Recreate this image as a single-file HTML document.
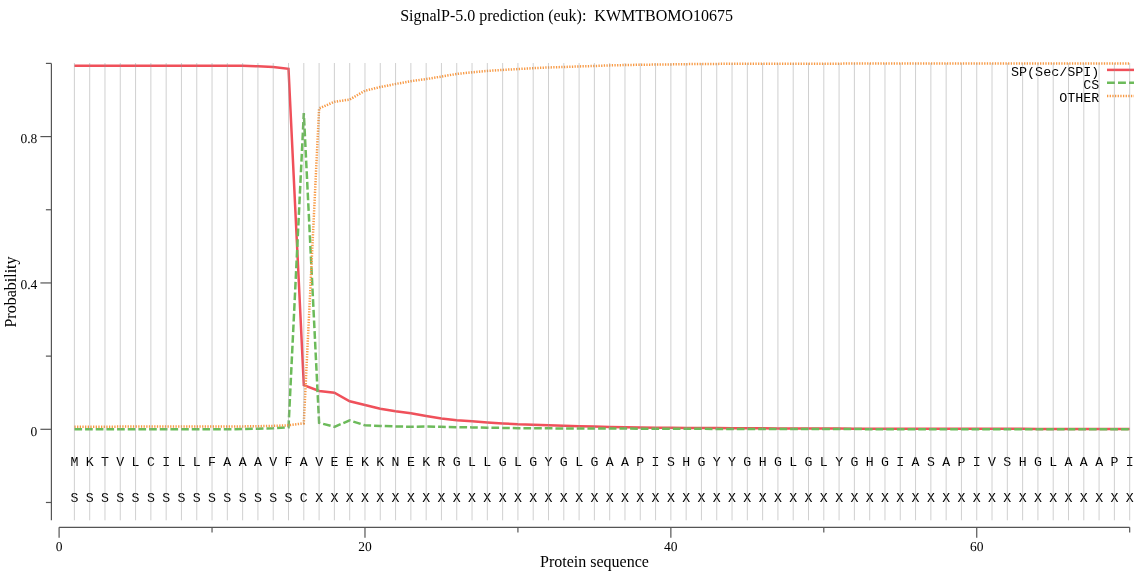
<!DOCTYPE html>
<html><head><meta charset="utf-8"><style>
html,body{margin:0;padding:0;background:#fff;width:1139px;height:572px;overflow:hidden}
svg{display:block;will-change:transform}
.serif{font-family:"Liberation Serif",serif}
.mono{font-family:"Liberation Mono",monospace}
</style></head><body>
<svg width="1139" height="572" viewBox="0 0 1139 572">
<rect width="1139" height="572" fill="#fff"/>

<text class="serif" x="566.6" y="20.7" font-size="16" text-anchor="middle" fill="#000" xml:space="preserve">SignalP-5.0 prediction (euk):  KWMTBOMO10675</text>
<path d="M74.39,65.67 L89.69,65.67 L104.98,65.67 L120.28,65.67 L135.57,65.67 L150.86,65.67 L166.16,65.67 L181.45,65.67 L196.75,65.67 L212.04,65.67 L227.33,65.67 L242.63,65.67 L257.92,66.29 L273.22,66.91 L288.51,68.78 L303.80,385.06 L319.10,390.92 L334.39,392.71 L349.69,401.31 L364.98,405.00 L380.27,408.70 L395.57,411.19 L410.86,413.31 L426.16,416.05 L441.45,418.51 L456.74,420.26 L472.04,421.32 L487.33,422.38 L502.63,423.45 L517.92,424.29 L533.21,424.73 L548.51,425.17 L563.80,425.71 L579.10,426.23 L594.39,426.56 L609.68,426.96 L624.98,427.29 L640.27,427.51 L655.57,427.64 L670.86,427.76 L686.15,427.89 L701.45,428.02 L716.74,428.10 L732.04,428.18 L747.33,428.26 L762.62,428.34 L777.92,428.42 L793.21,428.50 L808.51,428.53 L823.80,428.57 L839.09,428.60 L854.39,428.64 L869.68,428.68 L884.98,428.71 L900.27,428.75 L915.56,428.77 L930.86,428.78 L946.15,428.80 L961.45,428.81 L976.74,428.83 L992.03,428.85 L1007.33,428.86 L1022.62,428.87 L1037.92,428.88 L1053.21,428.89 L1068.50,428.90 L1083.80,428.91 L1099.09,428.92 L1114.39,428.92 L1129.68,428.93" fill="none" stroke="#f0505a" stroke-width="2.5" stroke-linejoin="miter"/>
<path d="M74.39,429.30 L89.69,429.30 L104.98,429.30 L120.28,429.30 L135.57,429.30 L150.86,429.30 L166.16,429.30 L181.45,429.30 L196.75,429.30 L212.04,429.30 L227.33,429.30 L242.63,428.93 L257.92,428.64 L273.22,428.28 L288.51,427.29 L303.80,113.16 L319.10,422.86 L334.39,426.81 L349.69,420.41 L364.98,425.31 L380.27,425.90 L395.57,426.48 L410.86,426.74 L426.16,426.59 L441.45,426.87 L456.74,427.14 L472.04,427.40 L487.33,427.65 L502.63,427.93 L517.92,428.20 L533.21,428.28 L548.51,428.35 L563.80,428.42 L579.10,428.50 L594.39,428.53 L609.68,428.57 L624.98,428.60 L640.27,428.64 L655.57,428.69 L670.86,428.74 L686.15,428.79 L701.45,428.84 L716.74,428.89 L732.04,428.93 L747.33,428.96 L762.62,429.00 L777.92,429.03 L793.21,429.06 L808.51,429.09 L823.80,429.12 L839.09,429.12 L854.39,429.12 L869.68,429.13 L884.98,429.13 L900.27,429.14 L915.56,429.14 L930.86,429.14 L946.15,429.15 L961.45,429.15 L976.74,429.15 L992.03,429.16 L1007.33,429.16 L1022.62,429.16 L1037.92,429.17 L1053.21,429.17 L1068.50,429.18 L1083.80,429.18 L1099.09,429.18 L1114.39,429.19 L1129.68,429.19" fill="none" stroke="#6cbb5a" stroke-width="2.5" stroke-dasharray="7.7 2.97" stroke-dashoffset="0.0"/>
<path d="M74.39,426.67 L89.69,426.65 L104.98,426.64 L120.28,426.62 L135.57,426.61 L150.86,426.59 L166.16,426.58 L181.45,426.56 L196.75,426.55 L212.04,426.53 L227.33,426.52 L242.63,426.41 L257.92,426.19 L273.22,425.90 L288.51,425.28 L303.80,423.30 L319.10,108.41 L334.39,101.82 L349.69,99.55 L364.98,90.73 L380.27,87.04 L395.57,83.96 L410.86,81.15 L426.16,79.06 L441.45,76.57 L456.74,73.90 L472.04,72.33 L487.33,70.90 L502.63,69.91 L517.92,69.07 L533.21,68.19 L548.51,67.46 L563.80,66.99 L579.10,66.40 L594.39,66.00 L609.68,65.38 L624.98,65.06 L640.27,64.75 L655.57,64.57 L670.86,64.39 L686.15,64.15 L701.45,63.91 L716.74,63.88 L732.04,63.84 L747.33,63.80 L762.62,63.77 L777.92,63.73 L793.21,63.69 L808.51,63.67 L823.80,63.65 L839.09,63.63 L854.39,63.61 L869.68,63.59 L884.98,63.57 L900.27,63.55 L915.56,63.54 L930.86,63.54 L946.15,63.53 L961.45,63.53 L976.74,63.52 L992.03,63.52 L1007.33,63.51 L1022.62,63.51 L1037.92,63.50 L1053.21,63.50 L1068.50,63.49 L1083.80,63.49 L1099.09,63.48 L1114.39,63.48 L1129.68,63.47" fill="none" stroke="#f89a45" stroke-width="2.5" stroke-dasharray="1.3 1.36"/>
<text class="mono" x="1099.4" y="76.1" font-size="13.4" text-anchor="end" fill="#000">SP(Sec/SPI)</text>
<line x1="1107" y1="69.9" x2="1134" y2="69.9" stroke="#f0505a" stroke-width="2.5"/>
<text class="mono" x="1099.4" y="89.0" font-size="13.4" text-anchor="end" fill="#000">CS</text>
<line x1="1107" y1="82.8" x2="1134" y2="82.8" stroke="#6cbb5a" stroke-width="2.5" stroke-dasharray="7.9 3.1"/>
<text class="mono" x="1099.4" y="102.3" font-size="13.4" text-anchor="end" fill="#000">OTHER</text>
<line x1="1107" y1="96.1" x2="1134" y2="96.1" stroke="#f89a45" stroke-width="2.5" stroke-dasharray="1.3 1.36"/>
<text class="mono" x="74.39" y="465.6" font-size="13.2" text-anchor="middle" fill="#000">M</text>
<text class="mono" x="89.69" y="465.6" font-size="13.2" text-anchor="middle" fill="#000">K</text>
<text class="mono" x="104.98" y="465.6" font-size="13.2" text-anchor="middle" fill="#000">T</text>
<text class="mono" x="120.28" y="465.6" font-size="13.2" text-anchor="middle" fill="#000">V</text>
<text class="mono" x="135.57" y="465.6" font-size="13.2" text-anchor="middle" fill="#000">L</text>
<text class="mono" x="150.86" y="465.6" font-size="13.2" text-anchor="middle" fill="#000">C</text>
<text class="mono" x="166.16" y="465.6" font-size="13.2" text-anchor="middle" fill="#000">I</text>
<text class="mono" x="181.45" y="465.6" font-size="13.2" text-anchor="middle" fill="#000">L</text>
<text class="mono" x="196.75" y="465.6" font-size="13.2" text-anchor="middle" fill="#000">L</text>
<text class="mono" x="212.04" y="465.6" font-size="13.2" text-anchor="middle" fill="#000">F</text>
<text class="mono" x="227.33" y="465.6" font-size="13.2" text-anchor="middle" fill="#000">A</text>
<text class="mono" x="242.63" y="465.6" font-size="13.2" text-anchor="middle" fill="#000">A</text>
<text class="mono" x="257.92" y="465.6" font-size="13.2" text-anchor="middle" fill="#000">A</text>
<text class="mono" x="273.22" y="465.6" font-size="13.2" text-anchor="middle" fill="#000">V</text>
<text class="mono" x="288.51" y="465.6" font-size="13.2" text-anchor="middle" fill="#000">F</text>
<text class="mono" x="303.80" y="465.6" font-size="13.2" text-anchor="middle" fill="#000">A</text>
<text class="mono" x="319.10" y="465.6" font-size="13.2" text-anchor="middle" fill="#000">V</text>
<text class="mono" x="334.39" y="465.6" font-size="13.2" text-anchor="middle" fill="#000">E</text>
<text class="mono" x="349.69" y="465.6" font-size="13.2" text-anchor="middle" fill="#000">E</text>
<text class="mono" x="364.98" y="465.6" font-size="13.2" text-anchor="middle" fill="#000">K</text>
<text class="mono" x="380.27" y="465.6" font-size="13.2" text-anchor="middle" fill="#000">K</text>
<text class="mono" x="395.57" y="465.6" font-size="13.2" text-anchor="middle" fill="#000">N</text>
<text class="mono" x="410.86" y="465.6" font-size="13.2" text-anchor="middle" fill="#000">E</text>
<text class="mono" x="426.16" y="465.6" font-size="13.2" text-anchor="middle" fill="#000">K</text>
<text class="mono" x="441.45" y="465.6" font-size="13.2" text-anchor="middle" fill="#000">R</text>
<text class="mono" x="456.74" y="465.6" font-size="13.2" text-anchor="middle" fill="#000">G</text>
<text class="mono" x="472.04" y="465.6" font-size="13.2" text-anchor="middle" fill="#000">L</text>
<text class="mono" x="487.33" y="465.6" font-size="13.2" text-anchor="middle" fill="#000">L</text>
<text class="mono" x="502.63" y="465.6" font-size="13.2" text-anchor="middle" fill="#000">G</text>
<text class="mono" x="517.92" y="465.6" font-size="13.2" text-anchor="middle" fill="#000">L</text>
<text class="mono" x="533.21" y="465.6" font-size="13.2" text-anchor="middle" fill="#000">G</text>
<text class="mono" x="548.51" y="465.6" font-size="13.2" text-anchor="middle" fill="#000">Y</text>
<text class="mono" x="563.80" y="465.6" font-size="13.2" text-anchor="middle" fill="#000">G</text>
<text class="mono" x="579.10" y="465.6" font-size="13.2" text-anchor="middle" fill="#000">L</text>
<text class="mono" x="594.39" y="465.6" font-size="13.2" text-anchor="middle" fill="#000">G</text>
<text class="mono" x="609.68" y="465.6" font-size="13.2" text-anchor="middle" fill="#000">A</text>
<text class="mono" x="624.98" y="465.6" font-size="13.2" text-anchor="middle" fill="#000">A</text>
<text class="mono" x="640.27" y="465.6" font-size="13.2" text-anchor="middle" fill="#000">P</text>
<text class="mono" x="655.57" y="465.6" font-size="13.2" text-anchor="middle" fill="#000">I</text>
<text class="mono" x="670.86" y="465.6" font-size="13.2" text-anchor="middle" fill="#000">S</text>
<text class="mono" x="686.15" y="465.6" font-size="13.2" text-anchor="middle" fill="#000">H</text>
<text class="mono" x="701.45" y="465.6" font-size="13.2" text-anchor="middle" fill="#000">G</text>
<text class="mono" x="716.74" y="465.6" font-size="13.2" text-anchor="middle" fill="#000">Y</text>
<text class="mono" x="732.04" y="465.6" font-size="13.2" text-anchor="middle" fill="#000">Y</text>
<text class="mono" x="747.33" y="465.6" font-size="13.2" text-anchor="middle" fill="#000">G</text>
<text class="mono" x="762.62" y="465.6" font-size="13.2" text-anchor="middle" fill="#000">H</text>
<text class="mono" x="777.92" y="465.6" font-size="13.2" text-anchor="middle" fill="#000">G</text>
<text class="mono" x="793.21" y="465.6" font-size="13.2" text-anchor="middle" fill="#000">L</text>
<text class="mono" x="808.51" y="465.6" font-size="13.2" text-anchor="middle" fill="#000">G</text>
<text class="mono" x="823.80" y="465.6" font-size="13.2" text-anchor="middle" fill="#000">L</text>
<text class="mono" x="839.09" y="465.6" font-size="13.2" text-anchor="middle" fill="#000">Y</text>
<text class="mono" x="854.39" y="465.6" font-size="13.2" text-anchor="middle" fill="#000">G</text>
<text class="mono" x="869.68" y="465.6" font-size="13.2" text-anchor="middle" fill="#000">H</text>
<text class="mono" x="884.98" y="465.6" font-size="13.2" text-anchor="middle" fill="#000">G</text>
<text class="mono" x="900.27" y="465.6" font-size="13.2" text-anchor="middle" fill="#000">I</text>
<text class="mono" x="915.56" y="465.6" font-size="13.2" text-anchor="middle" fill="#000">A</text>
<text class="mono" x="930.86" y="465.6" font-size="13.2" text-anchor="middle" fill="#000">S</text>
<text class="mono" x="946.15" y="465.6" font-size="13.2" text-anchor="middle" fill="#000">A</text>
<text class="mono" x="961.45" y="465.6" font-size="13.2" text-anchor="middle" fill="#000">P</text>
<text class="mono" x="976.74" y="465.6" font-size="13.2" text-anchor="middle" fill="#000">I</text>
<text class="mono" x="992.03" y="465.6" font-size="13.2" text-anchor="middle" fill="#000">V</text>
<text class="mono" x="1007.33" y="465.6" font-size="13.2" text-anchor="middle" fill="#000">S</text>
<text class="mono" x="1022.62" y="465.6" font-size="13.2" text-anchor="middle" fill="#000">H</text>
<text class="mono" x="1037.92" y="465.6" font-size="13.2" text-anchor="middle" fill="#000">G</text>
<text class="mono" x="1053.21" y="465.6" font-size="13.2" text-anchor="middle" fill="#000">L</text>
<text class="mono" x="1068.50" y="465.6" font-size="13.2" text-anchor="middle" fill="#000">A</text>
<text class="mono" x="1083.80" y="465.6" font-size="13.2" text-anchor="middle" fill="#000">A</text>
<text class="mono" x="1099.09" y="465.6" font-size="13.2" text-anchor="middle" fill="#000">A</text>
<text class="mono" x="1114.39" y="465.6" font-size="13.2" text-anchor="middle" fill="#000">P</text>
<text class="mono" x="1129.68" y="465.6" font-size="13.2" text-anchor="middle" fill="#000">I</text>
<text class="mono" x="74.39" y="501.8" font-size="13.2" text-anchor="middle" fill="#000">S</text>
<text class="mono" x="89.69" y="501.8" font-size="13.2" text-anchor="middle" fill="#000">S</text>
<text class="mono" x="104.98" y="501.8" font-size="13.2" text-anchor="middle" fill="#000">S</text>
<text class="mono" x="120.28" y="501.8" font-size="13.2" text-anchor="middle" fill="#000">S</text>
<text class="mono" x="135.57" y="501.8" font-size="13.2" text-anchor="middle" fill="#000">S</text>
<text class="mono" x="150.86" y="501.8" font-size="13.2" text-anchor="middle" fill="#000">S</text>
<text class="mono" x="166.16" y="501.8" font-size="13.2" text-anchor="middle" fill="#000">S</text>
<text class="mono" x="181.45" y="501.8" font-size="13.2" text-anchor="middle" fill="#000">S</text>
<text class="mono" x="196.75" y="501.8" font-size="13.2" text-anchor="middle" fill="#000">S</text>
<text class="mono" x="212.04" y="501.8" font-size="13.2" text-anchor="middle" fill="#000">S</text>
<text class="mono" x="227.33" y="501.8" font-size="13.2" text-anchor="middle" fill="#000">S</text>
<text class="mono" x="242.63" y="501.8" font-size="13.2" text-anchor="middle" fill="#000">S</text>
<text class="mono" x="257.92" y="501.8" font-size="13.2" text-anchor="middle" fill="#000">S</text>
<text class="mono" x="273.22" y="501.8" font-size="13.2" text-anchor="middle" fill="#000">S</text>
<text class="mono" x="288.51" y="501.8" font-size="13.2" text-anchor="middle" fill="#000">S</text>
<text class="mono" x="303.80" y="501.8" font-size="13.2" text-anchor="middle" fill="#000">C</text>
<text class="mono" x="319.10" y="501.8" font-size="13.2" text-anchor="middle" fill="#000">X</text>
<text class="mono" x="334.39" y="501.8" font-size="13.2" text-anchor="middle" fill="#000">X</text>
<text class="mono" x="349.69" y="501.8" font-size="13.2" text-anchor="middle" fill="#000">X</text>
<text class="mono" x="364.98" y="501.8" font-size="13.2" text-anchor="middle" fill="#000">X</text>
<text class="mono" x="380.27" y="501.8" font-size="13.2" text-anchor="middle" fill="#000">X</text>
<text class="mono" x="395.57" y="501.8" font-size="13.2" text-anchor="middle" fill="#000">X</text>
<text class="mono" x="410.86" y="501.8" font-size="13.2" text-anchor="middle" fill="#000">X</text>
<text class="mono" x="426.16" y="501.8" font-size="13.2" text-anchor="middle" fill="#000">X</text>
<text class="mono" x="441.45" y="501.8" font-size="13.2" text-anchor="middle" fill="#000">X</text>
<text class="mono" x="456.74" y="501.8" font-size="13.2" text-anchor="middle" fill="#000">X</text>
<text class="mono" x="472.04" y="501.8" font-size="13.2" text-anchor="middle" fill="#000">X</text>
<text class="mono" x="487.33" y="501.8" font-size="13.2" text-anchor="middle" fill="#000">X</text>
<text class="mono" x="502.63" y="501.8" font-size="13.2" text-anchor="middle" fill="#000">X</text>
<text class="mono" x="517.92" y="501.8" font-size="13.2" text-anchor="middle" fill="#000">X</text>
<text class="mono" x="533.21" y="501.8" font-size="13.2" text-anchor="middle" fill="#000">X</text>
<text class="mono" x="548.51" y="501.8" font-size="13.2" text-anchor="middle" fill="#000">X</text>
<text class="mono" x="563.80" y="501.8" font-size="13.2" text-anchor="middle" fill="#000">X</text>
<text class="mono" x="579.10" y="501.8" font-size="13.2" text-anchor="middle" fill="#000">X</text>
<text class="mono" x="594.39" y="501.8" font-size="13.2" text-anchor="middle" fill="#000">X</text>
<text class="mono" x="609.68" y="501.8" font-size="13.2" text-anchor="middle" fill="#000">X</text>
<text class="mono" x="624.98" y="501.8" font-size="13.2" text-anchor="middle" fill="#000">X</text>
<text class="mono" x="640.27" y="501.8" font-size="13.2" text-anchor="middle" fill="#000">X</text>
<text class="mono" x="655.57" y="501.8" font-size="13.2" text-anchor="middle" fill="#000">X</text>
<text class="mono" x="670.86" y="501.8" font-size="13.2" text-anchor="middle" fill="#000">X</text>
<text class="mono" x="686.15" y="501.8" font-size="13.2" text-anchor="middle" fill="#000">X</text>
<text class="mono" x="701.45" y="501.8" font-size="13.2" text-anchor="middle" fill="#000">X</text>
<text class="mono" x="716.74" y="501.8" font-size="13.2" text-anchor="middle" fill="#000">X</text>
<text class="mono" x="732.04" y="501.8" font-size="13.2" text-anchor="middle" fill="#000">X</text>
<text class="mono" x="747.33" y="501.8" font-size="13.2" text-anchor="middle" fill="#000">X</text>
<text class="mono" x="762.62" y="501.8" font-size="13.2" text-anchor="middle" fill="#000">X</text>
<text class="mono" x="777.92" y="501.8" font-size="13.2" text-anchor="middle" fill="#000">X</text>
<text class="mono" x="793.21" y="501.8" font-size="13.2" text-anchor="middle" fill="#000">X</text>
<text class="mono" x="808.51" y="501.8" font-size="13.2" text-anchor="middle" fill="#000">X</text>
<text class="mono" x="823.80" y="501.8" font-size="13.2" text-anchor="middle" fill="#000">X</text>
<text class="mono" x="839.09" y="501.8" font-size="13.2" text-anchor="middle" fill="#000">X</text>
<text class="mono" x="854.39" y="501.8" font-size="13.2" text-anchor="middle" fill="#000">X</text>
<text class="mono" x="869.68" y="501.8" font-size="13.2" text-anchor="middle" fill="#000">X</text>
<text class="mono" x="884.98" y="501.8" font-size="13.2" text-anchor="middle" fill="#000">X</text>
<text class="mono" x="900.27" y="501.8" font-size="13.2" text-anchor="middle" fill="#000">X</text>
<text class="mono" x="915.56" y="501.8" font-size="13.2" text-anchor="middle" fill="#000">X</text>
<text class="mono" x="930.86" y="501.8" font-size="13.2" text-anchor="middle" fill="#000">X</text>
<text class="mono" x="946.15" y="501.8" font-size="13.2" text-anchor="middle" fill="#000">X</text>
<text class="mono" x="961.45" y="501.8" font-size="13.2" text-anchor="middle" fill="#000">X</text>
<text class="mono" x="976.74" y="501.8" font-size="13.2" text-anchor="middle" fill="#000">X</text>
<text class="mono" x="992.03" y="501.8" font-size="13.2" text-anchor="middle" fill="#000">X</text>
<text class="mono" x="1007.33" y="501.8" font-size="13.2" text-anchor="middle" fill="#000">X</text>
<text class="mono" x="1022.62" y="501.8" font-size="13.2" text-anchor="middle" fill="#000">X</text>
<text class="mono" x="1037.92" y="501.8" font-size="13.2" text-anchor="middle" fill="#000">X</text>
<text class="mono" x="1053.21" y="501.8" font-size="13.2" text-anchor="middle" fill="#000">X</text>
<text class="mono" x="1068.50" y="501.8" font-size="13.2" text-anchor="middle" fill="#000">X</text>
<text class="mono" x="1083.80" y="501.8" font-size="13.2" text-anchor="middle" fill="#000">X</text>
<text class="mono" x="1099.09" y="501.8" font-size="13.2" text-anchor="middle" fill="#000">X</text>
<text class="mono" x="1114.39" y="501.8" font-size="13.2" text-anchor="middle" fill="#000">X</text>
<text class="mono" x="1129.68" y="501.8" font-size="13.2" text-anchor="middle" fill="#000">X</text>
<line x1="74.39" y1="63" x2="74.39" y2="520.3" stroke="rgba(150,150,150,0.45)" stroke-width="1"/>
<line x1="89.69" y1="63" x2="89.69" y2="520.3" stroke="rgba(150,150,150,0.45)" stroke-width="1"/>
<line x1="104.98" y1="63" x2="104.98" y2="520.3" stroke="rgba(150,150,150,0.45)" stroke-width="1"/>
<line x1="120.28" y1="63" x2="120.28" y2="520.3" stroke="rgba(150,150,150,0.45)" stroke-width="1"/>
<line x1="135.57" y1="63" x2="135.57" y2="520.3" stroke="rgba(150,150,150,0.45)" stroke-width="1"/>
<line x1="150.86" y1="63" x2="150.86" y2="520.3" stroke="rgba(150,150,150,0.45)" stroke-width="1"/>
<line x1="166.16" y1="63" x2="166.16" y2="520.3" stroke="rgba(150,150,150,0.45)" stroke-width="1"/>
<line x1="181.45" y1="63" x2="181.45" y2="520.3" stroke="rgba(150,150,150,0.45)" stroke-width="1"/>
<line x1="196.75" y1="63" x2="196.75" y2="520.3" stroke="rgba(150,150,150,0.45)" stroke-width="1"/>
<line x1="212.04" y1="63" x2="212.04" y2="520.3" stroke="rgba(150,150,150,0.45)" stroke-width="1"/>
<line x1="227.33" y1="63" x2="227.33" y2="520.3" stroke="rgba(150,150,150,0.45)" stroke-width="1"/>
<line x1="242.63" y1="63" x2="242.63" y2="520.3" stroke="rgba(150,150,150,0.45)" stroke-width="1"/>
<line x1="257.92" y1="63" x2="257.92" y2="520.3" stroke="rgba(150,150,150,0.45)" stroke-width="1"/>
<line x1="273.22" y1="63" x2="273.22" y2="520.3" stroke="rgba(150,150,150,0.45)" stroke-width="1"/>
<line x1="288.51" y1="63" x2="288.51" y2="520.3" stroke="rgba(150,150,150,0.45)" stroke-width="1"/>
<line x1="303.80" y1="63" x2="303.80" y2="520.3" stroke="rgba(150,150,150,0.45)" stroke-width="1"/>
<line x1="319.10" y1="63" x2="319.10" y2="520.3" stroke="rgba(150,150,150,0.45)" stroke-width="1"/>
<line x1="334.39" y1="63" x2="334.39" y2="520.3" stroke="rgba(150,150,150,0.45)" stroke-width="1"/>
<line x1="349.69" y1="63" x2="349.69" y2="520.3" stroke="rgba(150,150,150,0.45)" stroke-width="1"/>
<line x1="364.98" y1="63" x2="364.98" y2="520.3" stroke="rgba(150,150,150,0.45)" stroke-width="1"/>
<line x1="380.27" y1="63" x2="380.27" y2="520.3" stroke="rgba(150,150,150,0.45)" stroke-width="1"/>
<line x1="395.57" y1="63" x2="395.57" y2="520.3" stroke="rgba(150,150,150,0.45)" stroke-width="1"/>
<line x1="410.86" y1="63" x2="410.86" y2="520.3" stroke="rgba(150,150,150,0.45)" stroke-width="1"/>
<line x1="426.16" y1="63" x2="426.16" y2="520.3" stroke="rgba(150,150,150,0.45)" stroke-width="1"/>
<line x1="441.45" y1="63" x2="441.45" y2="520.3" stroke="rgba(150,150,150,0.45)" stroke-width="1"/>
<line x1="456.74" y1="63" x2="456.74" y2="520.3" stroke="rgba(150,150,150,0.45)" stroke-width="1"/>
<line x1="472.04" y1="63" x2="472.04" y2="520.3" stroke="rgba(150,150,150,0.45)" stroke-width="1"/>
<line x1="487.33" y1="63" x2="487.33" y2="520.3" stroke="rgba(150,150,150,0.45)" stroke-width="1"/>
<line x1="502.63" y1="63" x2="502.63" y2="520.3" stroke="rgba(150,150,150,0.45)" stroke-width="1"/>
<line x1="517.92" y1="63" x2="517.92" y2="520.3" stroke="rgba(150,150,150,0.45)" stroke-width="1"/>
<line x1="533.21" y1="63" x2="533.21" y2="520.3" stroke="rgba(150,150,150,0.45)" stroke-width="1"/>
<line x1="548.51" y1="63" x2="548.51" y2="520.3" stroke="rgba(150,150,150,0.45)" stroke-width="1"/>
<line x1="563.80" y1="63" x2="563.80" y2="520.3" stroke="rgba(150,150,150,0.45)" stroke-width="1"/>
<line x1="579.10" y1="63" x2="579.10" y2="520.3" stroke="rgba(150,150,150,0.45)" stroke-width="1"/>
<line x1="594.39" y1="63" x2="594.39" y2="520.3" stroke="rgba(150,150,150,0.45)" stroke-width="1"/>
<line x1="609.68" y1="63" x2="609.68" y2="520.3" stroke="rgba(150,150,150,0.45)" stroke-width="1"/>
<line x1="624.98" y1="63" x2="624.98" y2="520.3" stroke="rgba(150,150,150,0.45)" stroke-width="1"/>
<line x1="640.27" y1="63" x2="640.27" y2="520.3" stroke="rgba(150,150,150,0.45)" stroke-width="1"/>
<line x1="655.57" y1="63" x2="655.57" y2="520.3" stroke="rgba(150,150,150,0.45)" stroke-width="1"/>
<line x1="670.86" y1="63" x2="670.86" y2="520.3" stroke="rgba(150,150,150,0.45)" stroke-width="1"/>
<line x1="686.15" y1="63" x2="686.15" y2="520.3" stroke="rgba(150,150,150,0.45)" stroke-width="1"/>
<line x1="701.45" y1="63" x2="701.45" y2="520.3" stroke="rgba(150,150,150,0.45)" stroke-width="1"/>
<line x1="716.74" y1="63" x2="716.74" y2="520.3" stroke="rgba(150,150,150,0.45)" stroke-width="1"/>
<line x1="732.04" y1="63" x2="732.04" y2="520.3" stroke="rgba(150,150,150,0.45)" stroke-width="1"/>
<line x1="747.33" y1="63" x2="747.33" y2="520.3" stroke="rgba(150,150,150,0.45)" stroke-width="1"/>
<line x1="762.62" y1="63" x2="762.62" y2="520.3" stroke="rgba(150,150,150,0.45)" stroke-width="1"/>
<line x1="777.92" y1="63" x2="777.92" y2="520.3" stroke="rgba(150,150,150,0.45)" stroke-width="1"/>
<line x1="793.21" y1="63" x2="793.21" y2="520.3" stroke="rgba(150,150,150,0.45)" stroke-width="1"/>
<line x1="808.51" y1="63" x2="808.51" y2="520.3" stroke="rgba(150,150,150,0.45)" stroke-width="1"/>
<line x1="823.80" y1="63" x2="823.80" y2="520.3" stroke="rgba(150,150,150,0.45)" stroke-width="1"/>
<line x1="839.09" y1="63" x2="839.09" y2="520.3" stroke="rgba(150,150,150,0.45)" stroke-width="1"/>
<line x1="854.39" y1="63" x2="854.39" y2="520.3" stroke="rgba(150,150,150,0.45)" stroke-width="1"/>
<line x1="869.68" y1="63" x2="869.68" y2="520.3" stroke="rgba(150,150,150,0.45)" stroke-width="1"/>
<line x1="884.98" y1="63" x2="884.98" y2="520.3" stroke="rgba(150,150,150,0.45)" stroke-width="1"/>
<line x1="900.27" y1="63" x2="900.27" y2="520.3" stroke="rgba(150,150,150,0.45)" stroke-width="1"/>
<line x1="915.56" y1="63" x2="915.56" y2="520.3" stroke="rgba(150,150,150,0.45)" stroke-width="1"/>
<line x1="930.86" y1="63" x2="930.86" y2="520.3" stroke="rgba(150,150,150,0.45)" stroke-width="1"/>
<line x1="946.15" y1="63" x2="946.15" y2="520.3" stroke="rgba(150,150,150,0.45)" stroke-width="1"/>
<line x1="961.45" y1="63" x2="961.45" y2="520.3" stroke="rgba(150,150,150,0.45)" stroke-width="1"/>
<line x1="976.74" y1="63" x2="976.74" y2="520.3" stroke="rgba(150,150,150,0.45)" stroke-width="1"/>
<line x1="992.03" y1="63" x2="992.03" y2="520.3" stroke="rgba(150,150,150,0.45)" stroke-width="1"/>
<line x1="1007.33" y1="63" x2="1007.33" y2="520.3" stroke="rgba(150,150,150,0.45)" stroke-width="1"/>
<line x1="1022.62" y1="63" x2="1022.62" y2="520.3" stroke="rgba(150,150,150,0.45)" stroke-width="1"/>
<line x1="1037.92" y1="63" x2="1037.92" y2="520.3" stroke="rgba(150,150,150,0.45)" stroke-width="1"/>
<line x1="1053.21" y1="63" x2="1053.21" y2="520.3" stroke="rgba(150,150,150,0.45)" stroke-width="1"/>
<line x1="1068.50" y1="63" x2="1068.50" y2="520.3" stroke="rgba(150,150,150,0.45)" stroke-width="1"/>
<line x1="1083.80" y1="63" x2="1083.80" y2="520.3" stroke="rgba(150,150,150,0.45)" stroke-width="1"/>
<line x1="1099.09" y1="63" x2="1099.09" y2="520.3" stroke="rgba(150,150,150,0.45)" stroke-width="1"/>
<line x1="1114.39" y1="63" x2="1114.39" y2="520.3" stroke="rgba(150,150,150,0.45)" stroke-width="1"/>
<line x1="1129.68" y1="63" x2="1129.68" y2="520.3" stroke="rgba(150,150,150,0.45)" stroke-width="1"/>
<line x1="51.4" y1="63.4" x2="51.4" y2="520.3" stroke="#555555" stroke-width="1.2"/>
<line x1="45.9" y1="63.40" x2="51.4" y2="63.40" stroke="#555555" stroke-width="1.2"/>
<line x1="40.4" y1="136.58" x2="51.4" y2="136.58" stroke="#555555" stroke-width="1.2"/>
<text class="serif" x="37.3" y="142.88" font-size="13.5" text-rendering="geometricPrecision" text-anchor="end" fill="#000">0.8</text>
<line x1="45.9" y1="209.76" x2="51.4" y2="209.76" stroke="#555555" stroke-width="1.2"/>
<line x1="40.4" y1="282.94" x2="51.4" y2="282.94" stroke="#555555" stroke-width="1.2"/>
<text class="serif" x="37.3" y="289.24" font-size="13.5" text-rendering="geometricPrecision" text-anchor="end" fill="#000">0.4</text>
<line x1="45.9" y1="356.12" x2="51.4" y2="356.12" stroke="#555555" stroke-width="1.2"/>
<line x1="40.4" y1="429.30" x2="51.4" y2="429.30" stroke="#555555" stroke-width="1.2"/>
<text class="serif" x="37.3" y="435.60" font-size="13.5" text-rendering="geometricPrecision" text-anchor="end" fill="#000">0</text>
<line x1="45.9" y1="502.48" x2="51.4" y2="502.48" stroke="#555555" stroke-width="1.2"/>
<line x1="59.1" y1="527.3" x2="1129.68" y2="527.3" stroke="#555555" stroke-width="1.2"/>
<line x1="59.10" y1="527.3" x2="59.10" y2="537.7" stroke="#555555" stroke-width="1.2"/>
<text class="serif" x="59.10" y="551.3" font-size="13.5" text-rendering="geometricPrecision" text-anchor="middle" fill="#000">0</text>
<line x1="212.04" y1="527.3" x2="212.04" y2="532.4" stroke="#555555" stroke-width="1.2"/>
<line x1="364.98" y1="527.3" x2="364.98" y2="537.7" stroke="#555555" stroke-width="1.2"/>
<text class="serif" x="364.98" y="551.3" font-size="13.5" text-rendering="geometricPrecision" text-anchor="middle" fill="#000">20</text>
<line x1="517.92" y1="527.3" x2="517.92" y2="532.4" stroke="#555555" stroke-width="1.2"/>
<line x1="670.86" y1="527.3" x2="670.86" y2="537.7" stroke="#555555" stroke-width="1.2"/>
<text class="serif" x="670.86" y="551.3" font-size="13.5" text-rendering="geometricPrecision" text-anchor="middle" fill="#000">40</text>
<line x1="823.80" y1="527.3" x2="823.80" y2="532.4" stroke="#555555" stroke-width="1.2"/>
<line x1="976.74" y1="527.3" x2="976.74" y2="537.7" stroke="#555555" stroke-width="1.2"/>
<text class="serif" x="976.74" y="551.3" font-size="13.5" text-rendering="geometricPrecision" text-anchor="middle" fill="#000">60</text>
<line x1="1129.68" y1="527.3" x2="1129.68" y2="532.4" stroke="#555555" stroke-width="1.2"/>
<text class="serif" x="594.5" y="567" font-size="16" text-anchor="middle" fill="#000">Protein sequence</text>
<text class="serif" transform="translate(16,292) rotate(-90)" x="0" y="0" font-size="16" text-anchor="middle" fill="#000">Probability</text>
</svg></body></html>
